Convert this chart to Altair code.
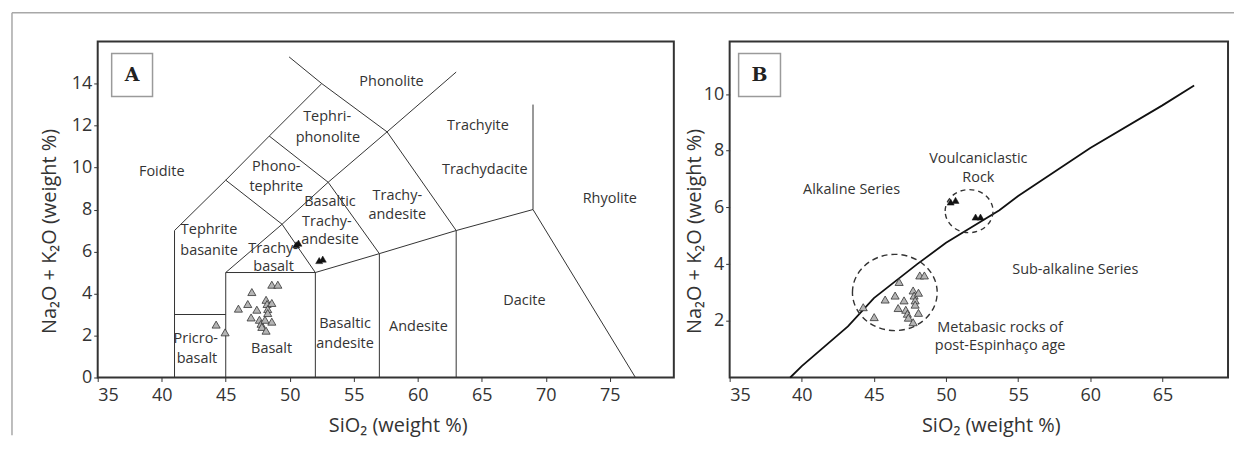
import altair as alt
import pandas as pd

FONT = "Open Sans"
INK = "#333333"

# ---------------- Panel A: TAS classification boundaries (SiO2, Na2O+K2O) ----------------
TAS_SEGMENTS = {
    "foidite_left": ([41, 41, 45, 48.4, 52.5, 49.95], [0, 7, 9.4, 11.5, 14, 15.27]),
    "basalt_left": ([45, 45, 49.4, 53, 57.6, 63], [0, 5, 7.3, 9.3, 11.7, 14.55]),
    "picro_top": ([41, 45], [3, 3]),
    "basalt_top": ([45, 52, 52], [5, 5, 0]),
    "sub_alk": ([52, 57, 63, 69, 77], [5, 5.9, 7, 8, 0]),
    "andesite_left": ([57, 57], [0, 5.9]),
    "dacite_left": ([63, 63], [0, 7]),
    "rhyolite_top": ([69, 69], [8, 13]),
    "tephrite_line": ([45, 49.4, 52], [9.4, 7.3, 5]),
    "phono_line": ([48.4, 53, 57], [11.5, 9.3, 5.9]),
    "trachyte_line": ([52.5, 57.6, 63], [14, 11.7, 7]),
}

A_LABELS = ["Phonolite", "Tephri-", "phonolite", "Trachyite", "Foidite", "Phono-", "tephrite",
            "Trachydacite", "Basaltic", "Trachy-", "andesite", "Trachy-", "andesite", "Rhyolite",
            "Tephrite", "basanite", "Trachy-", "basalt", "Dacite", "Basaltic", "andesite",
            "Andesite", "Pricro-", "basalt", "Basalt"]
A_LABEL_X = [57.95, 52.92, 52.98, 64.7, 40.0, 48.95, 48.95, 65.23, 53.14, 52.9, 53.14, 58.4, 58.4,
             75.0, 43.7, 43.7, 48.7, 48.74, 68.33, 54.32, 54.32, 60.05, 42.66, 42.75, 48.58]
A_LABEL_Y = [14.06, 12.41, 11.42, 12.0, 9.78, 10.02, 9.07, 9.88, 8.36, 7.42, 6.56, 8.64, 7.72,
             8.48, 7.02, 6.03, 6.14, 5.24, 3.65, 2.54, 1.59, 2.41, 1.82, 0.90, 1.35]

# Metabasic rocks (grey triangles) and volcaniclastic rocks (black triangles), panel A
A_META_SIO2 = [44.25, 44.95, 45.99, 46.72, 47.04, 46.98, 47.43, 47.63, 47.76, 47.82, 48.15, 48.15,
               48.23, 48.28, 48.6, 48.28, 48.6, 48.6, 49.07, 48.07]
A_META_ALK = [2.52, 2.15, 3.28, 3.5, 4.07, 2.86, 3.23, 2.75, 2.56, 2.41, 2.23, 3.70,
              3.5, 3.26, 3.55, 3.07, 2.66, 4.42, 4.42, 2.75]
A_VOLC_SIO2 = [50.5, 50.68, 52.3, 52.58]
A_VOLC_ALK = [6.32, 6.4, 5.57, 5.64]

A_XTICKS = [35, 40, 45, 50, 55, 60, 65, 70, 75]
A_YTICKS = [0, 2, 4, 6, 8, 10, 12, 14]

# ---------------- Panel B: alkaline / sub-alkaline division ----------------
B_CURVE_SIO2 = [39.2, 40, 43.2, 45, 48, 50, 53.7, 55, 60, 65, 67.2]
B_CURVE_ALK = [0, 0.4, 1.8, 2.8, 4, 4.75, 5.9, 6.4, 8.1, 9.6, 10.3]

B_META_SIO2 = [44.26, 45.02, 45.78, 46.47, 46.75, 47.09, 46.68, 47.21, 47.32, 47.39, 47.72, 47.72,
               47.79, 47.86, 48.09, 47.86, 48.09, 48.18, 48.5]
B_META_ALK = [2.48, 2.13, 2.75, 2.89, 3.37, 2.72, 2.45, 2.39, 2.25, 2.11, 1.95, 3.07,
              2.89, 2.72, 2.99, 2.57, 2.28, 3.60, 3.60]
B_VOLC_SIO2 = [50.32, 50.66, 52.05, 52.39]
B_VOLC_ALK = [6.19, 6.25, 5.66, 5.66]

B_GROUP_CENTER_SIO2 = [46.45]
B_GROUP_CENTER_ALK = [3.0]
B_VOLC_CENTER_SIO2 = [51.6]
B_VOLC_CENTER_ALK = [5.87]

B_LABELS = ["Alkaline Series", "Voulcaniclastic", "Rock", "Sub-alkaline Series",
            "Metabasic rocks of", "post-Espinhaço age"]
B_LABEL_X = [43.45, 52.24, 52.24, 58.96, 53.75, 53.75]
B_LABEL_Y = [6.63, 7.72, 7.04, 3.79, 1.76, 1.11]

B_XTICKS = [35, 40, 45, 50, 55, 60, 65]
B_YTICKS = [2, 4, 6, 8, 10]

X_TITLE = "SiO₂ (weight %)"
Y_TITLE = "Na₂O + K₂O (weight %)"

ELLIPSE = "M-1,0A1,0.9,0,1,1,1,0A1,0.9,0,1,1,-1,0Z"

# ---------------- tables ----------------
rows = []
for seg, (xs, ys) in TAS_SEGMENTS.items():
    for i, (xv, yv) in enumerate(zip(xs, ys)):
        rows.append({"seg": seg, "i": i, "x": xv, "y": yv})
df_tas = pd.DataFrame(rows)
df_a_lab = pd.DataFrame({"x": A_LABEL_X, "y": A_LABEL_Y, "t": A_LABELS})
df_a_meta = pd.DataFrame({"x": A_META_SIO2, "y": A_META_ALK})
df_a_volc = pd.DataFrame({"x": A_VOLC_SIO2, "y": A_VOLC_ALK})

df_b_curve = pd.DataFrame({"x": B_CURVE_SIO2, "y": B_CURVE_ALK, "i": list(range(len(B_CURVE_SIO2)))})
df_b_meta = pd.DataFrame({"x": B_META_SIO2, "y": B_META_ALK})
df_b_volc = pd.DataFrame({"x": B_VOLC_SIO2, "y": B_VOLC_ALK})
df_b_lab = pd.DataFrame({"x": B_LABEL_X, "y": B_LABEL_Y, "t": B_LABELS})
df_b_c1 = pd.DataFrame({"x": B_GROUP_CENTER_SIO2, "y": B_GROUP_CENTER_ALK})
df_b_c2 = pd.DataFrame({"x": B_VOLC_CENTER_SIO2, "y": B_VOLC_CENTER_ALK})
one = pd.DataFrame({"k": [0]})

W_A, W_B, H = 578, 500, 337


def encodings(xdom, ydom, xticks, yticks, width, ytitle_x):
    x = alt.X("x:Q", scale=alt.Scale(domain=xdom, nice=False, zero=False),
              axis=alt.Axis(values=xticks, title=X_TITLE, titleX=width / 2 + 12, titleY=54,
                            titleBaseline="alphabetic", labelBaseline="alphabetic",
                            labelPadding=19, labelOverlap=False, format="d"))
    y = alt.Y("y:Q", scale=alt.Scale(domain=ydom, nice=False, zero=False),
              axis=alt.Axis(values=yticks, title=Y_TITLE, titleX=ytitle_x, titleY=190,
                            titleBaseline="middle", labelPadding=2, labelOverlap=False, format="d"))
    return x, y


# ---------------- Panel A ----------------
xa, ya = encodings([35, 80], [0, 16], A_XTICKS, A_YTICKS, W_A, -48)

a_lines = alt.Chart(df_tas).mark_line(color=INK, strokeWidth=1).encode(
    x=xa, y=ya, detail="seg:N", order="i:Q")
a_text = alt.Chart(df_a_lab).mark_text(font=FONT, fontSize=14.5, color=INK).encode(
    x=xa, y=ya, text="t:N")
a_meta = alt.Chart(df_a_meta).mark_point(shape="triangle-up", filled=True, fill="#b5b5b5",
                                          stroke=INK, strokeWidth=0.8, size=66, opacity=1).encode(x=xa, y=ya)
a_volc = alt.Chart(df_a_volc).mark_point(shape="triangle-up", filled=True, fill="#111111",
                                          stroke="#111111", strokeWidth=0.5, size=50, opacity=1).encode(x=xa, y=ya)
a_box = alt.Chart(one).mark_rect(fill="white", stroke="#9a9a9a", strokeWidth=1.5).encode(
    x=alt.value(14), x2=alt.value(55), y=alt.value(12), y2=alt.value(55))
a_letter = alt.Chart(one).mark_text(text="A", font="DejaVu Serif", fontSize=19, fontWeight="bold",
                                    color="#222222", baseline="middle", align="center").encode(
    x=alt.value(34.5), y=alt.value(34))
frame_left = alt.Chart(one).mark_rule(color="#a8a8a8", strokeWidth=1.5).encode(
    x=alt.value(-86), y=alt.value(-29), y2=alt.value(395))
frame_top = alt.Chart(one).mark_rule(color="#a8a8a8", strokeWidth=1.5).encode(
    x=alt.value(-86), x2=alt.value(1140), y=alt.value(-29))

panel_a = alt.layer(a_lines, a_text, a_meta, a_volc, a_box, a_letter, frame_left, frame_top).properties(
    width=W_A, height=H)

# ---------------- Panel B ----------------
xb, yb = encodings([35, 69.55], [0, 11.85], B_XTICKS, B_YTICKS, W_B, -35)

b_curve = alt.Chart(df_b_curve).mark_line(color="#111111", strokeWidth=1.8).encode(
    x=xb, y=yb, order="i:Q")
b_c1 = alt.Chart(df_b_c1).mark_point(shape=ELLIPSE, filled=False, stroke=INK, strokeWidth=1.4,
                                      strokeDash=[6, 4], size=85 * 85, opacity=1).encode(x=xb, y=yb)
b_c2 = alt.Chart(df_b_c2).mark_point(shape=ELLIPSE, filled=False, stroke=INK, strokeWidth=1.4,
                                      strokeDash=[5, 4], size=48 * 48, opacity=1).encode(x=xb, y=yb)
b_text = alt.Chart(df_b_lab).mark_text(font=FONT, fontSize=14.5, color=INK).encode(
    x=xb, y=yb, text="t:N")
b_meta = alt.Chart(df_b_meta).mark_point(shape="triangle-up", filled=True, fill="#b5b5b5",
                                          stroke=INK, strokeWidth=0.8, size=66, opacity=1).encode(x=xb, y=yb)
b_volc = alt.Chart(df_b_volc).mark_point(shape="triangle-up", filled=True, fill="#111111",
                                          stroke="#111111", strokeWidth=0.5, size=50, opacity=1).encode(x=xb, y=yb)
b_box = alt.Chart(one).mark_rect(fill="white", stroke="#9a9a9a", strokeWidth=1.5).encode(
    x=alt.value(9), x2=alt.value(51), y=alt.value(12), y2=alt.value(55))
b_letter = alt.Chart(one).mark_text(text="B", font="DejaVu Serif", fontSize=19, fontWeight="bold",
                                    color="#222222", baseline="middle", align="center").encode(
    x=alt.value(30), y=alt.value(34))

panel_b = alt.layer(b_curve, b_c1, b_c2, b_text, b_meta, b_volc, b_box, b_letter).properties(
    width=W_B, height=H)

chart = alt.hconcat(panel_a, panel_b, spacing=56, bounds="flush").properties(
    padding={"left": 2, "top": 2, "right": 0, "bottom": 0}
).configure_view(
    stroke=INK, strokeWidth=2
).configure_axis(
    grid=False, domain=False, ticks=True, tickColor=INK, tickSize=4, tickWidth=1,
    labelFont=FONT, labelFontSize=18, labelColor=INK,
    titleFont=FONT, titleFontSize=20, titleFontWeight="normal", titleColor=INK
)

chart.save("out.html", embed_options={"renderer": "svg", "actions": False})
